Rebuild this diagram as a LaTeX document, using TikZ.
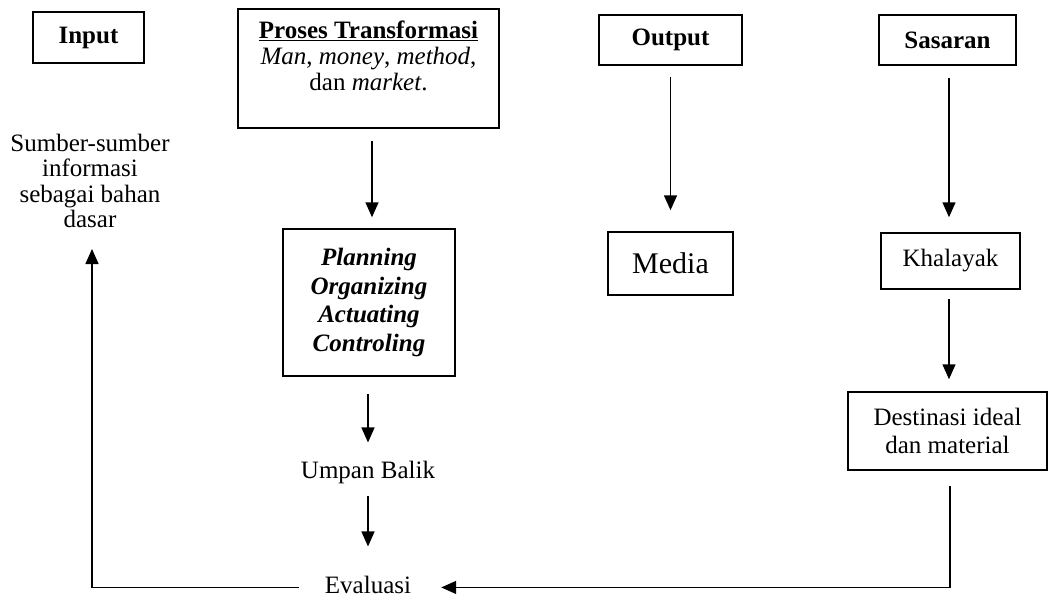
\documentclass[tikz,border=0pt]{standalone}
\usepackage{fontspec}
\setmainfont{Liberation Serif}
\usetikzlibrary{arrows.meta}
\begin{document}
\begin{tikzpicture}[x=1pt,y=-1pt,
  every node/.style={font=\fontsize{25}{28.75}\selectfont, inner sep=0pt},
  box/.style={draw, line width=1.5pt, align=center},
  plain/.style={align=center},
  arr/.style={-{Triangle[length=15pt,width=13pt]}, line width=1.5pt},
  conn/.style={line width=1.5pt}]
\useasboundingbox (0,0) rectangle (1050,598);
% header boxes
\node[box, minimum width=111pt, minimum height=51pt] (input) at (88.5,37.5) {\textbf{Input}};
\node[box, minimum width=261pt, minimum height=119pt] (proses) at (368.5,68.5)
  {\parbox[c][119pt][t]{261pt}{\centering\fontsize{25}{26}\selectfont\vspace*{12pt}\textbf{\underline{Proses Transformasi}}\\
   \textit{Man}, \textit{money}, \textit{method},\\ dan \textit{market}.}};
\node[box, minimum width=143pt, minimum height=50pt] (output) at (670.5,40) {\textbf{Output}};
\node[box, minimum width=137pt, minimum height=50pt] (sasaran) at (947.5,40) {\textbf{Sasaran}};
% second row
\node[plain, font=\fontsize{25}{25.5}\selectfont, text depth=0pt, anchor=south] (sumber) at (90,228)
  {Sumber-sumber\\informasi\\sebagai bahan\\dasar};
\node[box, minimum width=172pt, minimum height=147pt] (planning) at (369,302.5)
  {\textbf{\textit{Planning}}\\\textbf{\textit{Organizing}}\\\textbf{\textit{Actuating}}\\\textbf{\textit{Controling}}};
\node[box, minimum width=125pt, minimum height=63pt, font=\fontsize{30}{34}\selectfont] (media) at (670.5,263.5) {Media};
\node[box, minimum width=139pt, minimum height=56pt] (khalayak) at (950.5,261) {Khalayak};
\node[box, minimum width=199pt, minimum height=78pt] (destinasi) at (947.5,431) {Destinasi ideal\\dan material};
\node[plain, anchor=base] (umpan) at (368,478) {Umpan Balik};
\node[plain, anchor=base] (evaluasi) at (368,593) {Evaluasi};
% connectors
\draw[arr, shorten <=12pt, shorten >=11pt] ([xshift=3.5pt]proses.south) -- ([xshift=3pt]planning.north);
\draw[arr, shorten <=11pt, shorten >=21pt] (output.south) -- (media.north);
\draw[arr, shorten <=12pt, shorten >=15pt] ([xshift=1.5pt]sasaran.south) -- ([xshift=-1.5pt]khalayak.north);
\draw[arr, shorten <=9pt, shorten >=12pt] ([xshift=-1.5pt]khalayak.south) -- ([xshift=1.5pt]destinasi.north);
\draw[arr, shorten <=17pt, shorten >=18pt] ([xshift=-1pt]planning.south) -- (umpan.north);
\draw[arr, shorten <=12.6pt, shorten >=29pt] (umpan.south) -- (evaluasi.north);
\draw[arr, shorten <=15pt, shorten >=30pt] ([xshift=2.5pt]destinasi.south) |- ([yshift=-3pt]evaluasi.east);
\draw[arr, shorten <=26pt, shorten >=21pt] ([yshift=-3pt]evaluasi.west) -| ([xshift=2pt]sumber.south);
\end{tikzpicture}
\end{document}
